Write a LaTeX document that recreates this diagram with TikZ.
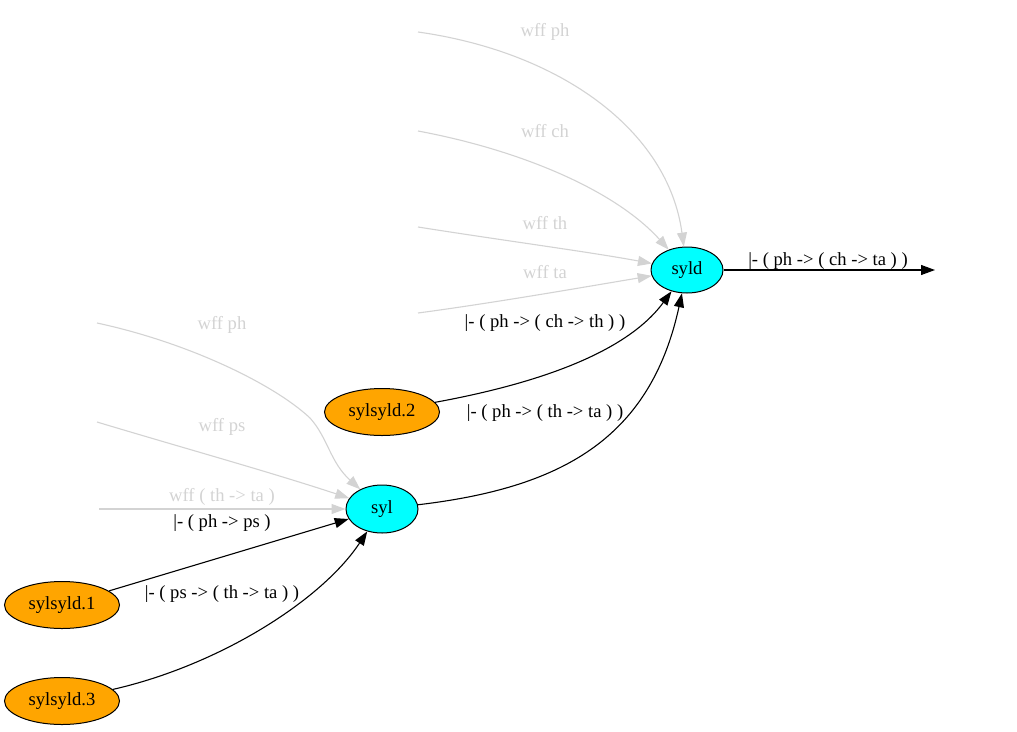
\documentclass[tikz,border=0pt]{standalone}
\usepackage{fontspec}
\setmainfont{Liberation Serif}
\usetikzlibrary{arrows.meta,shapes.geometric}
\definecolor{gvgray}{HTML}{D3D3D3}
\definecolor{gvcyan}{HTML}{00FFFF}
\definecolor{gvorange}{HTML}{FFA500}
\tikzset{
  every node/.style={font=\fontsize{18.6}{21}\selectfont},
  thm/.style={ellipse, draw=black, line width=1pt, fill=gvcyan, inner sep=0pt, minimum width=72pt, minimum height=46pt},
  hyp/.style={ellipse, draw=black, line width=1pt, fill=gvorange, inner sep=0pt, minimum width=115pt, minimum height=47pt},
  wffedge/.style={draw=gvgray, line width=1.1pt, -{Triangle[length=14pt,width=10pt]}, gvgray},
  proofedge/.style={draw=black, line width=1.1pt, -{Triangle[length=14pt,width=10pt]}},
  wfflbl/.style={text=gvgray},
  prflbl/.style={text=black}
}
\begin{document}
\begin{tikzpicture}[x=1pt, y=-1pt]
\useasboundingbox (0,0) rectangle (1017,731);

% theorem nodes
\node[thm] (syld) at (687,270) {syld};
\node[thm, minimum height=48pt] (syl) at (382,509) {syl};

% hypothesis nodes
\node[hyp] (h2) at (382,412) {sylsyld.2};
\node[hyp] (h1) at (62,605) {sylsyld.1};
\node[hyp] (h3) at (62,701) {sylsyld.3};

% free ends of the wff edges
\coordinate (a1) at (418,32);
\coordinate (a2) at (418,131);
\coordinate (a3) at (418,227);
\coordinate (a4) at (418,313);
\coordinate (b1) at (97,323);
\coordinate (b2) at (97,422);
\coordinate (b3) at (99,509);
\coordinate (out) at (935,270);

% wff edges into syld
\draw[wffedge] (a1) .. controls (560,52) and (668,130) .. (syld);
\draw[wffedge] (a2) .. controls (520,150) and (615,190) .. (syld);
\draw[wffedge] (a3) .. controls (500,240) and (590,252) .. (syld);
\draw[wffedge] (a4) .. controls (500,302) and (590,286) .. (syld);
\node[wfflbl] at (545,32) {wff ph};
\node[wfflbl] at (545,131) {wff ch};
\node[wfflbl] at (545,223) {wff th};
\node[wfflbl] at (545,272) {wff ta};

% proof edges into syld
\draw[proofedge] (h2) .. controls (530,385) and (625,355) .. (syld);
\draw[proofedge] (syl) .. controls (560,488) and (650,440) .. (syld);
\node[prflbl] at (545,323) {|- ( ph -> ( ch -> th ) )};
\node[prflbl] at (545,413) {|- ( ph -> ( th -> ta ) )};

% conclusion
\draw[proofedge] (syld) -- (out);
\node[prflbl] at (828,261) {|- ( ph -> ( ch -> ta ) )};

% wff edges into syl
\draw[wffedge] (b1) .. controls (190,343) and (275,385) .. (310,418)
  .. controls (328,438) and (330,462) .. (syl);
\draw[wffedge] (b2) .. controls (180,447) and (270,472) .. (syl);
\draw[wffedge] (b3) -- (syl);
\node[wfflbl] at (222,325) {wff ph};
\node[wfflbl] at (222,427) {wff ps};
\node[wfflbl] at (222,497) {wff ( th -> ta )};

% proof edges into syl
\draw[proofedge] (h1) -- (syl);
\draw[proofedge] (h3) .. controls (220,665) and (322,600) .. (syl);
\node[prflbl] at (222,523) {|- ( ph -> ps )};
\node[prflbl] at (222,594) {|- ( ps -> ( th -> ta ) )};
\end{tikzpicture}
\end{document}
